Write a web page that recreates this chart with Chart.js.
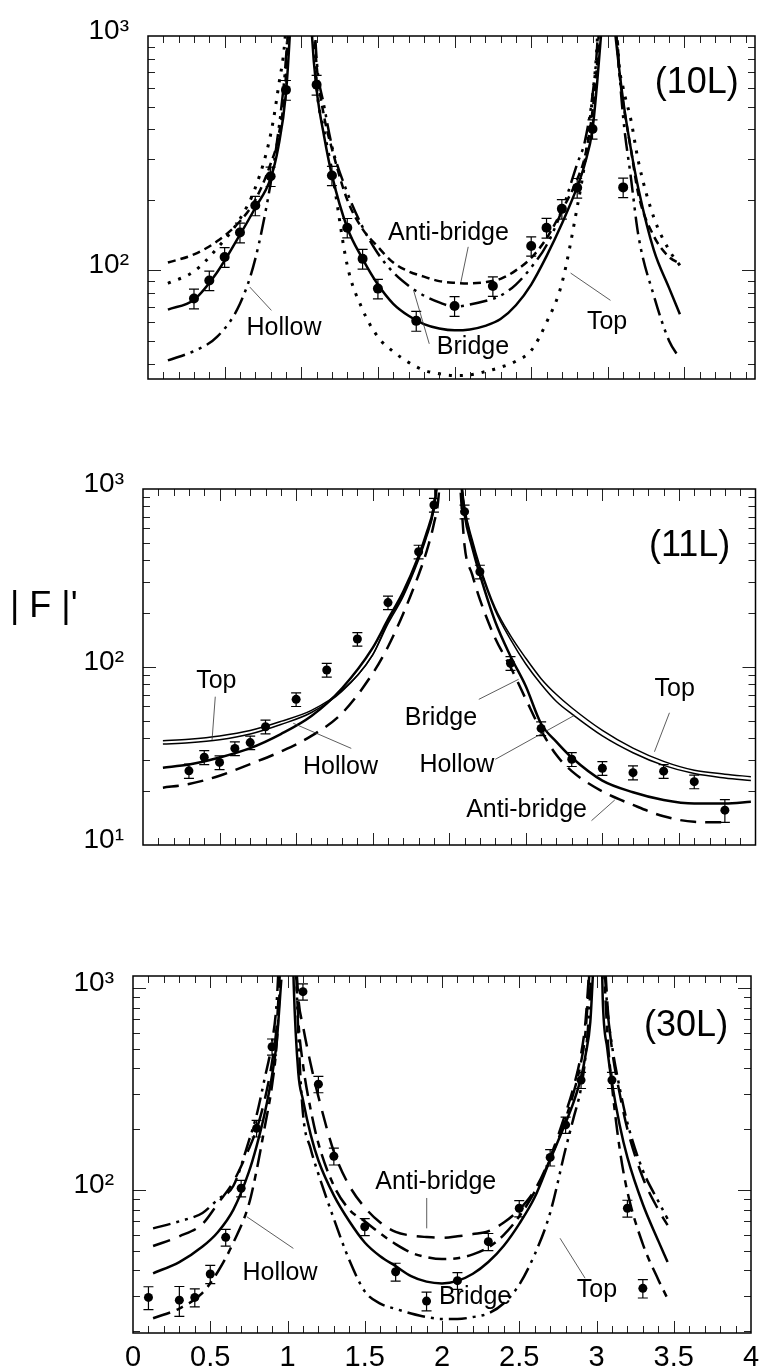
<!DOCTYPE html>
<html>
<head>
<meta charset="utf-8">
<script src="https://cdn.jsdelivr.net/npm/chart.js@4.4.1/dist/chart.umd.min.js"></script>
<style>
  html, body { margin: 0; padding: 0; background: #fff; }
  #page { position: relative; width: 760px; height: 1368px; overflow: hidden; background: #fff; }
  #page canvas { position: absolute; left: 0; }
</style>
</head>
<body>
<div id="page">
  <canvas id="c10" width="760" height="400" style="top:0px"></canvas>
  <canvas id="c11" width="760" height="420" style="top:450px"></canvas>
  <canvas id="c30" width="760" height="432" style="top:936px"></canvas>
</div>
<script>
// ---------- (10L) ----------
const p10L = [0.3, 0.4, 0.5, 0.6, 0.7, 0.8, 0.9, 1.1, 1.2, 1.3, 1.4, 1.5, 1.75, 2.0, 2.25, 2.5, 2.6, 2.7, 2.8, 2.9, 3.1];
const p10F = [75.8, 90.6, 114, 145, 189, 252, 589, 619, 254, 152, 112, 83.6, 60.9, 70.5, 85.7, 127, 152, 183, 225, 401, 226];
const p10Err = [7.3, 8.7, 11, 14, 18, 24, 57, 60, 24, 14.5, 10.8, 8, 5.9, 6.8, 8.2, 12, 14.6, 17.5, 21.6, 38, 21.7];

const c10L = [0.13, 0.3, 0.45, 0.6, 0.7, 0.8, 0.85, 0.9, 0.93, 0.96, 1.0,
  1.04, 1.07, 1.1, 1.15, 1.2, 1.3, 1.4, 1.5, 1.6, 1.7, 1.8, 1.9, 2.0, 2.1, 2.2, 2.3, 2.4, 2.5, 2.6, 2.7, 2.8,
  2.85, 2.9, 2.93, 2.96, 3.0, 3.04, 3.07, 3.1, 3.15, 3.2, 3.3, 3.4, 3.47];
const c10Bridge = [68, 75, 98, 142, 185, 247, 335, 570, 1150, 3000, null,
  3000, 1000, 590, 370, 255, 152, 112, 87, 72, 64, 59, 56.5, 55.5, 56, 58, 62, 71, 87, 115, 158, 227,
  285, 400, 630, 1100, null, 1150, 760, 530, 330, 222, 122, 84, 65];
const c10Anti = [108, 117, 133, 162, 200, 285, 370, 680, 2000, 5000, null,
  5000, 1500, 750, 450, 330, 200, 150, 126, 108, 99, 94, 90, 88.5, 88, 89, 92, 100, 113, 137, 180, 245,
  305, 480, 760, 2000, null, 1500, 760, 520, 330, 210, 140, 114, 107];
const c10Top = [88, 99, 124, 166, 225, 380, 600, 1100, 3000, 8000, null,
  8000, 1500, 620, 390, 265, 105, 68, 52, 45, 40.5, 37.5, 36.2, 35.6, 35.8, 37, 38.6, 41, 45.5, 60, 88, 186,
  290, 550, 930, 3000, null, 2000, 800, 600, 440, 290, 168, 122, 105];
const c10Hollow = [41.3, 45.3, 52, 72, 112, 235, 390, 800, 1800, 5000, null,
  5000, 2000, 800, 500, 340, 215, 153, 118, 98, 86, 78, 73, 70, 71.5, 74, 78, 87, 103, 128, 180, 285,
  355, 560, 900, 2500, null, 2000, 800, 450, 250, 140, 78, 50, 42];
const y10Ticks = [40, 50, 60, 70, 80, 90, 100, 200, 300, 400, 500, 600, 700, 800, 900];
const y10Major = [100, 1000];
const y10Labels = ['10²', '10³'];

// ---------- (11L) ----------
const p11L = [0.3, 0.4, 0.5, 0.6, 0.7, 0.8, 1.0, 1.2, 1.4, 1.6, 1.8, 1.9, 2.1, 2.2, 2.4, 2.6, 2.8, 3.0, 3.2, 3.4, 3.6, 3.8];
const p11F = [26.1, 31.1, 29.1, 34.9, 37.6, 46.2, 65.8, 96.2, 143.6, 230, 444, 813, 746, 343, 105, 45.2, 30.3, 27, 25.5, 26, 22.7, 15.7];
const p11Err = [2.4, 2.8, 2.6, 3.1, 3.3, 4.1, 5.8, 8.5, 12.5, 20, 39, 72, 66, 30, 9.3, 4, 2.7, 2.4, 2.3, 2.3, 2.0, 2.3];

const c11L = [0.13, 0.3, 0.5, 0.7, 0.9, 1.1, 1.3, 1.5, 1.6, 1.7, 1.8, 1.85, 1.9, 1.93, 1.96, 2.0,
  2.04, 2.07, 2.1, 2.15, 2.2, 2.3, 2.4, 2.5, 2.6, 2.7, 2.8, 3.0, 3.2, 3.4, 3.6, 3.8, 3.97];
const c11Top = [38.5, 39.3, 41, 44, 49.5, 57, 74, 117, 180, 255, 410, 540, 780, 1300, 3000, null,
  3000, 1400, 800, 520, 370, 215, 150, 112, 86, 70, 59, 44, 35, 29.5, 26.3, 25, 24.2];
const c11Bridge = [36.9, 37.5, 39, 42, 47.5, 55.5, 73, 117, 175, 250, 400, 530, 760, 1250, 3000, null,
  3000, 1350, 780, 500, 355, 208, 143, 104, 80, 64, 54.5, 41, 33, 28, 25.2, 23.8, 23];
const c11Hollow = [27.2, 28.3, 31, 35, 42, 53, 76, 128, 185, 265, 420, 560, 800, 1300, 3000, null,
  3000, 1300, 720, 470, 330, 180, 115, 78, 48, 38, 31, 23, 19.8, 17.9, 17.1, 17.1, 17.5];
const c11Anti = [21, 22, 24.5, 28.5, 33.5, 41, 55, 92, 130, 200, 330, 440, 640, 900, 2500, null,
  2500, 1100, 480, 330, 240, 145, 100, 66, 44, 32, 26, 20, 16.8, 14.5, 13.5, 13.4, null];
const y11Ticks = [20, 30, 40, 50, 60, 70, 80, 90, 100, 200, 300, 400, 500, 600, 700, 800, 900];
const y11Major = [10, 100, 1000];
const y11Labels = ['10¹', '10²', '10³'];

// ---------- (30L) ----------
const p30L = [0.1, 0.3, 0.4, 0.5, 0.6, 0.7, 0.8, 0.9, 1.1, 1.2, 1.3, 1.5, 1.7, 1.9, 2.1, 2.3, 2.5, 2.7, 2.8, 2.9, 3.1, 3.2, 3.3];
const p30F = [29.4, 28.5, 29.4, 38.4, 58.3, 102, 202, 512, 959, 334, 147, 65.8, 39.4, 28.2, 35.6, 55.5, 81.2, 145, 210, 350, 350, 81.2, 32.6];
const p30Err = [3.8, 4.8, 3, 4, 5.5, 9.5, 19, 47, 88, 31, 14, 6.3, 4, 3, 3.4, 5.4, 7.5, 13.5, 19.5, 32, 32, 7.8, 3.4];

const c30L = [0.13, 0.3, 0.45, 0.55, 0.65, 0.75, 0.8, 0.85, 0.9, 0.93, 0.96, 1.0,
  1.02, 1.04, 1.07, 1.1, 1.15, 1.2, 1.3, 1.4, 1.5, 1.6, 1.7, 1.8, 1.9, 2.0, 2.1, 2.2, 2.3, 2.4, 2.5, 2.6, 2.7, 2.8,
  2.85, 2.9, 2.93, 2.96, 2.98, 3.0, 3.02, 3.04, 3.07, 3.1, 3.15, 3.2, 3.3, 3.4, 3.46];
const c30Bridge = [38.7, 44, 52.5, 62, 80, 123, 165, 235, 370, 540, 1100, null,
  5000, 1050, 380, 280, 188, 140, 94, 70, 55, 47, 42, 37.5, 35.2, 34.5, 35.5, 38.5, 44, 53, 68, 92, 141, 215,
  270, 360, 470, 680, 1300, null, 5000, 900, 500, 340, 210, 145, 85, 56, 44];
const c30Top = [64.6, 70, 77, 90, 105, 175, 235, 350, 540, 850, 2500, null,
  8000, 3000, 600, 240, 160, 120, 72, 45, 31.5, 27.4, 25.8, 24.5, 23.5, 23, 23, 23.5, 24.5, 27.5, 34, 48, 77, 160,
  225, 320, 470, 1000, 3000, null, 8000, 2000, 800, 520, 320, 215, 125, 88, 72];
const c30Anti = [52.8, 59, 68, 86, 110, 160, 200, 275, 430, 650, 1600, null,
  8000, 2500, 900, 650, 420, 290, 155, 105, 82, 69, 62, 59.5, 58.5, 58, 59, 60.5, 62.5, 69, 80, 100, 145, 240,
  320, 470, 700, 1600, 4000, null, 8000, 2500, 850, 500, 300, 200, 115, 80, 67];
const c30Hollow = [23.2, 25.9, 31, 39.5, 55, 85, 125, 200, 330, 530, 1400, null,
  8000, 2500, 700, 420, 250, 170, 105, 80, 70, 61, 54, 49, 46.5, 45.5, 46, 48, 52, 60, 74, 98, 142, 225,
  300, 430, 620, 1500, 4000, null, 8000, 2000, 600, 330, 160, 98, 54, 36, 29];
const y30Ticks = [20, 30, 40, 50, 60, 70, 80, 90, 100, 200, 300, 400, 500, 600, 700, 800, 900, 1000];
const y30Major = [100, 1000];
const y30Labels = ['10²', '10³'];
const x30Major = [0, 0.5, 1, 1.5, 2, 2.5, 3, 3.5, 4];
const x30Labels = ['0', '0.5', '1', '1.5', '2', '2.5', '3', '3.5', '4'];

const FONT = "'Liberation Sans', Arial, Helvetica, sans-serif";
Chart.defaults.font.family = FONT;
Chart.defaults.color = '#000';

// inward tick marks on all four sides plus the frame
const frameTicks = {
  id: 'frameTicks',
  afterDraw(chart, args, opts) {
    const { ctx, chartArea: a, scales: { x, y } } = chart;
    ctx.save();
    ctx.strokeStyle = '#222';
    ctx.lineWidth = 1;
    ctx.beginPath();
    for (let k = 1; k * 0.1 < x.max - 0.001; k++) {
      const px = Math.round(x.getPixelForValue(k * 0.1)) + 0.5;
      const len = k % 5 === 0 ? 12 : 7;
      ctx.moveTo(px, a.bottom); ctx.lineTo(px, a.bottom - len);
      ctx.moveTo(px, a.top); ctx.lineTo(px, a.top + len);
    }
    opts.yTicks.forEach(v => {
      const py = Math.round(y.getPixelForValue(v)) + 0.5;
      const len = opts.yMajor.includes(v) ? 13 : 7;
      ctx.moveTo(a.left, py); ctx.lineTo(a.left + len, py);
      ctx.moveTo(a.right, py); ctx.lineTo(a.right - len, py);
    });
    ctx.stroke();
    ctx.strokeStyle = '#000';
    ctx.lineWidth = 1.5;
    ctx.strokeRect(a.left, a.top, a.right - a.left, a.bottom - a.top);
    ctx.restore();
  }
};

const errorBars = {
  id: 'errorBars',
  afterDatasetsDraw(chart) {
    const { ctx, chartArea: a, scales: { x, y } } = chart;
    ctx.save();
    ctx.beginPath();
    ctx.rect(a.left, a.top, a.right - a.left, a.bottom - a.top);
    ctx.clip();
    ctx.strokeStyle = '#000';
    ctx.lineWidth = 1.2;
    chart.data.datasets.forEach(ds => {
      if (!ds.errors) return;
      ds.data.forEach((p, i) => {
        const e = ds.errors[i];
        const px = x.getPixelForValue(p.x);
        const hi = y.getPixelForValue(p.y + e);
        const lo = y.getPixelForValue(p.y - e);
        ctx.beginPath();
        ctx.moveTo(px, hi); ctx.lineTo(px, lo);
        ctx.moveTo(px - 5, hi); ctx.lineTo(px + 5, hi);
        ctx.moveTo(px - 5, lo); ctx.lineTo(px + 5, lo);
        ctx.stroke();
      });
    });
    ctx.restore();
  }
};

// labels on the curves, with their thin leader lines
const notes = {
  id: 'notes',
  afterDraw(chart, args, opts) {
    const { ctx, scales: { x, y } } = chart;
    ctx.save();
    ctx.fillStyle = '#000';
    ctx.strokeStyle = '#333';
    ctx.lineWidth = 0.8;
    (opts.items || []).forEach(n => {
      if (n.line) {
        ctx.beginPath();
        ctx.moveTo(x.getPixelForValue(n.line[0]), y.getPixelForValue(n.line[1]));
        ctx.lineTo(x.getPixelForValue(n.line[2]), y.getPixelForValue(n.line[3]));
        ctx.stroke();
      }
      ctx.font = (n.size || 25) + 'px ' + FONT;
      ctx.textAlign = 'center';
      ctx.textBaseline = 'middle';
      ctx.fillText(n.text, x.getPixelForValue(n.x), y.getPixelForValue(n.y));
    });
    if (opts.title) {
      ctx.font = '36px ' + FONT;
      ctx.textAlign = 'left';
      ctx.textBaseline = 'alphabetic';
      ctx.fillText(opts.title.text, opts.title.px, opts.title.py);
    }
    ctx.restore();
  }
};

function curve(L, vals, width, dash) {
  return {
    data: L.map((v, i) => ({ x: v, y: vals[i] })),
    borderColor: '#000',
    borderWidth: width,
    borderDash: dash,
    pointRadius: 0,
    cubicInterpolationMode: 'monotone',
    clip: 0,
    order: 2
  };
}

function points(L, F, E, r) {
  return {
    data: L.map((v, i) => ({ x: v, y: F[i] })),
    errors: E,
    showLine: false,
    pointRadius: r,
    pointBackgroundColor: '#000',
    pointBorderColor: '#000',
    pointBorderWidth: 0,
    clip: 0,
    order: 1
  };
}

function panel(id, o) {
  new Chart(document.getElementById(id), {
    type: 'line',
    data: { datasets: o.datasets },
    plugins: [frameTicks, errorBars, notes],
    options: {
      responsive: false,
      animation: false,
      devicePixelRatio: 1,
      layout: { padding: { top: o.padTop, right: o.padRight, left: 0, bottom: 0 } },
      plugins: {
        legend: { display: false },
        tooltip: { enabled: false },
        frameTicks: { yTicks: o.yTicks, yMajor: o.yMajor },
        notes: { items: o.notes, title: o.title }
      },
      scales: {
        x: {
          type: 'linear',
          min: 0,
          max: o.xMax,
          grid: { display: false },
          border: { display: false },
          afterBuildTicks: s => { s.ticks = (o.xMajor || []).map(v => ({ value: v })); },
          afterFit: s => { s.height = o.xHeight; s.paddingLeft = 0; s.paddingRight = 0; },
          ticks: {
            display: !!o.xLabels,
            autoSkip: false,
            maxRotation: 0,
            padding: 0,
            font: { size: 29 },
            callback: (v, i) => (o.xLabels ? o.xLabels[i] : '')
          }
        },
        y: {
          type: 'logarithmic',
          min: o.yMin,
          max: o.yMax,
          grid: { display: false },
          border: { display: false },
          afterBuildTicks: s => { s.ticks = o.yMajor.map(v => ({ value: v })); },
          afterFit: s => { s.width = o.yWidth; s.paddingTop = 0; s.paddingBottom = 0; },
          ticks: {
            autoSkip: false,
            padding: 11,
            labelOffset: -5,
            font: { size: 28 },
            callback: (v, i) => o.yLabels[i]
          }
        }
      }
    }
  });
}

panel('c10', {
  datasets: [
    points(p10L, p10F, p10Err, 5),
    curve(c10L, c10Bridge, 2.5, []),
    curve(c10L, c10Anti, 2.5, [8, 5]),
    curve(c10L, c10Top, 3, [3, 8]),
    curve(c10L, c10Hollow, 2.5, [18, 6, 3, 6, 3, 6])
  ],
  padTop: 36, padRight: 2, xMax: 3.96, xHeight: 21, yWidth: 148,
  yMin: 34.4, yMax: 1000, yTicks: y10Ticks, yMajor: y10Major, yLabels: y10Labels,
  notes: [
    { text: 'Anti-bridge', x: 1.96, y: 144, line: [2.089, 126, 2.041, 89] },
    { text: 'Bridge', x: 2.12, y: 47, line: [1.835, 48.6, 1.733, 82] },
    { text: 'Hollow', x: 0.887, y: 56.5, line: [0.805, 67.5, 0.664, 84.9] },
    { text: 'Top', x: 2.995, y: 60, line: [3.017, 74.5, 2.757, 97.4] },
    { text: '(10L)', x: 3.58, y: 630, size: 36 }
  ]
});

panel('c11', {
  datasets: [
    points(p11L, p11F, p11Err, 4.5),
    curve(c11L, c11Top, 1.5, []),
    curve(c11L, c11Bridge, 1.5, []),
    curve(c11L, c11Hollow, 2.5, []),
    curve(c11L, c11Anti, 2.5, [16, 9])
  ],
  padTop: 39, padRight: 1, xMax: 4, xHeight: 25, yWidth: 143,
  yMin: 10, yMax: 1000, yTicks: y11Ticks, yMajor: y11Major, yLabels: y11Labels,
  title: { text: "| F |'", px: 10, py: 167 },
  notes: [
    { text: 'Top', x: 0.479, y: 83.4, line: [0.472, 68.1, 0.451, 38.9] },
    { text: 'Hollow', x: 1.29, y: 27.4, line: [1.36, 34.9, 0.981, 48.3] },
    { text: 'Bridge', x: 1.946, y: 51.7, line: [2.193, 65.8, 2.453, 85.3] },
    { text: 'Hollow', x: 2.05, y: 28.1, line: [2.301, 30.3, 2.821, 53.7] },
    { text: 'Top', x: 3.472, y: 75.2, line: [3.438, 55.3, 3.34, 33.4] },
    { text: 'Anti-bridge', x: 2.505, y: 15.7, line: [2.929, 13.7, 3.081, 17.9] },
    { text: '(11L)', x: 3.57, y: 478, size: 36 }
  ]
});

panel('c30', {
  datasets: [
    points(p30L, p30F, p30Err, 4.5),
    curve(c30L, c30Bridge, 2.5, []),
    curve(c30L, c30Top, 2.5, [18, 6, 3, 6, 3, 6]),
    curve(c30L, c30Anti, 2.5, [18, 10]),
    curve(c30L, c30Hollow, 2.5, [18, 7, 7, 7])
  ],
  padTop: 40, padRight: 9, xMax: 4, xHeight: 35, yWidth: 133,
  xMajor: x30Major, xLabels: x30Labels,
  yMin: 19.6, yMax: 1146, yTicks: y30Ticks, yMajor: y30Major, yLabels: y30Labels,
  notes: [
    { text: 'Anti-bridge', x: 1.96, y: 109.5, line: [1.901, 91.3, 1.901, 64.6] },
    { text: 'Bridge', x: 2.214, y: 29.5 },
    { text: 'Hollow', x: 0.951, y: 38.8, line: [1.038, 51.4, 0.736, 73.8] },
    { text: 'Top', x: 3.003, y: 32, line: [2.926, 36.6, 2.764, 57.7] },
    { text: '(30L)', x: 3.58, y: 648, size: 36 }
  ]
});
</script>
</body>
</html>
